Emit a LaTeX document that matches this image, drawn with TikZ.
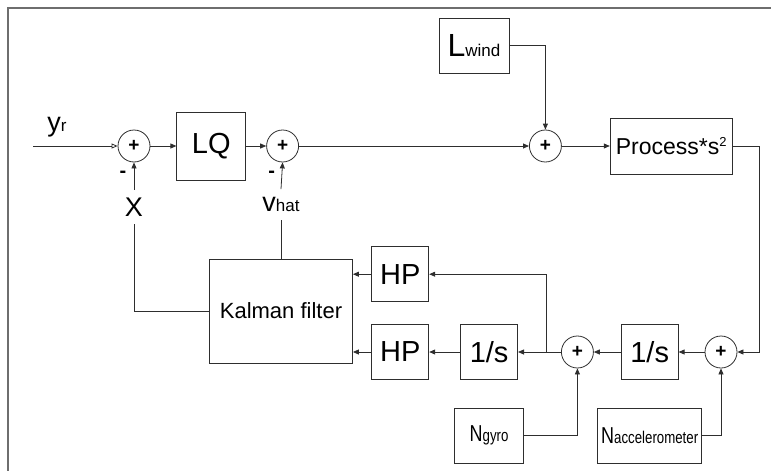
\documentclass[tikz,border=0pt]{standalone}
\usepackage{fontspec}
\setmainfont{Liberation Sans}
\usepackage{graphicx}
\usetikzlibrary{
  arrows.meta,
  positioning
}
\definecolor{LineGray}{HTML}{2E2E2E}
\definecolor{FrameGray}{HTML}{6E6E6E}
\newcommand{\subtext}[1]{{\fontsize{17}{17}\selectfont #1}}
\newcommand{\suptext}[1]{\raisebox{0.33em}{\fontsize{13}{13}\selectfont #1}}
\tikzset{
  block/.style={
    draw=LineGray,
    line width=0.8pt,
    fill=white,
    align=center,
    inner sep=0pt
  },
  bigblock/.style={
    block,
    font=\fontsize{29}{32}\selectfont,
    minimum width=57pt,
    minimum height=55pt
  },
  midblock/.style={
    block,
    font=\fontsize{23}{26}\selectfont,
    minimum height=55pt
  },
  sumnode/.style={
    circle,
    draw=LineGray,
    line width=0.8pt,
    minimum size=32pt,
    inner sep=0pt,
    font=\fontsize{19}{19}\selectfont\bfseries
  },
  sign/.style={
    font=\fontsize{20}{20}\selectfont\bfseries,
    inner sep=1pt,
    xshift=-11pt,
    yshift=-8pt
  },
  varlabel/.style={
    inner sep=8pt,
    font=\fontsize{27}{30}\selectfont
  },
  wire/.style={
    draw=LineGray,
    line width=0.8pt
  },
  signal/.style={
    wire,
    -{Triangle[length=6pt,width=5pt]}
  },
  refsignal/.style={
    wire,
    -{Triangle[open,length=6pt,width=5pt]}
  }
}

\begin{document}
\begin{tikzpicture}[x=1pt, y=1pt]

  \useasboundingbox (0,0) rectangle (771,-471);
  \draw[FrameGray, line width=2pt] (8,-471) -- (8,-8) -- (771,-8);

  % forward path
  \node[
    sumnode,
    label={[sign]below:-}
  ] (sumref) at (134,-146) {+};

  \node[
    bigblock,
    minimum width=69pt,
    minimum height=68pt,
    right=26pt of sumref
  ] (lq) {LQ};

  \node[
    sumnode,
    label={[sign]below:-},
    right=20pt of lq
  ] (sumvel) {+};

  \node[
    sumnode,
    right=230pt of sumvel
  ] (sumwind) {+};

  \node[
    midblock,
    minimum width=122pt,
    minimum height=56pt,
    right=48pt of sumwind
  ] (process) {Process*s\suptext{2}};

  \node[
    midblock,
    font=\fontsize{32}{34}\selectfont,
    minimum width=70pt
  ] (wind) at (474,-45.5) {L\subtext{wind}};

  % measurement path
  \node[sumnode] (sumacc) at (721,-352) {+};
  \node[bigblock, left=26pt of sumacc] (intacc) {1/s};
  \node[sumnode, left=27pt of intacc] (sumgyro) {+};
  \node[bigblock, left=43pt of sumgyro] (intgyro) {1/s};
  \node[bigblock, left=31pt of intgyro] (hppos) {HP};
  \node[bigblock, above=22pt of hppos] (hpvel) {HP};

  \node[
    midblock,
    font=\fontsize{22}{26}\selectfont,
    minimum width=143pt,
    minimum height=104pt
  ] (kalman) at (281,-311) {Kalman filter};

  \node[
    midblock,
    minimum width=69pt,
    below=28pt of intgyro
  ] (ngyro) {\scalebox{0.78}[1]{N\subtext{gyro}}};

  \node[
    midblock,
    minimum width=104pt,
    below=28pt of intacc
  ] (nacc) {\scalebox{0.78}[1]{N\subtext{accelerometer}}};

  \coordinate (branch) at (546,-352);
  \coordinate (refin) at (33,-146);

  % signal names
  \node[varlabel] (yrlabel) at (57,-127) {y\subtext{r}};
  \node[varlabel] (xlabel) at (134,-207) {X};
  \node[varlabel] (vlabel) at (281,-204.5) {v\subtext{hat}};

  \draw[refsignal] (refin) -- (sumref);
  \draw[signal] (sumref) -- (lq);
  \draw[signal] (lq) -- (sumvel);
  \draw[signal] (sumvel) -- (sumwind);
  \draw[signal] (sumwind) -- (process);
  \draw[signal] (wind.east) -| (sumwind.north);

  \draw[signal] (process.east) -- ++(27,0) |- (sumacc.east);
  \draw[signal] (sumacc) -- (intacc);
  \draw[signal] (intacc) -- (sumgyro);
  \draw[signal] (sumgyro) -- (intgyro);
  \draw[signal] (intgyro) -- (hppos);
  \draw[signal] (hppos.west) -- (hppos.west -| kalman.east);
  \draw[signal] (branch) |- (hpvel.east);
  \draw[signal] (hpvel.west) -- (hpvel.west -| kalman.east);

  \draw[signal] (ngyro.east) -| (sumgyro.south);
  \draw[signal] (nacc.east) -| (sumacc.south);

  \draw[wire] (kalman.west) -| (xlabel.south);
  \draw[signal] (xlabel.north) -- (sumref.south);
  \draw[wire] (kalman.north) -- (vlabel.south);
  \draw[signal] (vlabel.north) -- (sumvel.south);

\end{tikzpicture}
\end{document}
